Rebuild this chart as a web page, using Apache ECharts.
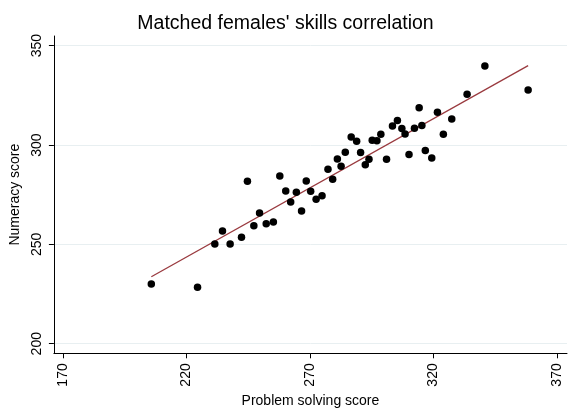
<!DOCTYPE html>
<html>
<head>
<meta charset="utf-8">
<style>
  html, body { margin: 0; padding: 0; background: #ffffff; }
  #chart { width: 571px; height: 415px; }
</style>
<script src="https://cdn.jsdelivr.net/npm/echarts@6/dist/echarts.min.js"></script>
</head>
<body>
<div id="chart"></div>
<script>
// Problem solving score (x) of each matched female group
const problemSolving = [
  205.8, 224.5, 231.5, 234.6, 237.7, 242.3, 244.7, 247.3, 249.6, 252.3,
  255.2, 257.8, 260.2, 262.2, 264.5, 266.6, 268.5, 270.3, 272.5, 274.9,
  277.3, 279.2, 281.1, 282.6, 284.3, 286.7, 288.9, 290.5, 292.4, 293.9,
  295.2, 297.1, 298.7, 301.0, 303.4, 305.4, 307.2, 308.5, 310.1, 312.3,
  314.2, 315.3, 316.7, 319.3, 321.6, 324.0, 327.4, 333.6, 340.8, 358.3
];
// Numeracy score (y)
const numeracy = [
  230.1, 228.4, 250.2, 256.7, 250.2, 253.6, 281.8, 259.4, 265.8, 260.4,
  261.3, 284.4, 276.9, 271.3, 276.2, 266.8, 281.9, 276.7, 272.7, 274.5,
  287.8, 282.8, 293.0, 289.3, 296.4, 304.1, 301.9, 296.2, 290.1, 292.8,
  302.4, 302.2, 305.4, 292.8, 309.6, 312.3, 308.3, 305.6, 295.2, 308.5,
  318.8, 309.8, 297.2, 293.5, 316.5, 305.4, 313.1, 325.6, 339.8, 327.7
];
// Fitted line end points (x, y)
const fitX = [205.8, 358.3];
const fitY = [233.7, 340.0];
// Tick labels
const xTicks = [170, 220, 270, 320, 370];
const yTicks = [200, 250, 300, 350];

const scatterData = problemSolving.map((x, i) => [x, numeracy[i]]);
const fitData = fitX.map((x, i) => [x, fitY[i]]);

const font = "'Liberation Sans', Arial, Helvetica, sans-serif";
const chart = echarts.init(document.getElementById('chart'), null, { renderer: 'canvas' });

chart.setOption({
  backgroundColor: '#ffffff',
  animation: false,
  title: {
    text: "Matched females' skills correlation",
    left: 'center',
    top: 9,
    textStyle: { fontFamily: font, fontSize: 19.5, fontWeight: 'normal', color: '#000' }
  },
  grid: { left: 53, right: 4, top: 36, bottom: 61.7, containLabel: false },
  xAxis: {
    type: 'value',
    min: 166.37,
    max: 374.04,
    name: 'Problem solving score',
    nameLocation: 'middle',
    nameGap: 40,
    nameTextStyle: { fontFamily: font, fontSize: 14, color: '#000' },
    axisLine: { show: true, onZero: false, lineStyle: { color: '#000', width: 1 } },
    axisTick: { show: true, length: 5, inside: false, customValues: xTicks, lineStyle: { color: '#000' } },
    axisLabel: { customValues: xTicks, rotate: 90, margin: 10, fontFamily: font, fontSize: 14, color: '#000' },
    splitLine: { show: false }
  },
  yAxis: {
    type: 'value',
    min: 195.17,
    max: 354.88,
    name: 'Numeracy score',
    nameLocation: 'middle',
    nameRotate: 90,
    nameGap: 27,
    nameTextStyle: { fontFamily: font, fontSize: 14, color: '#000' },
    axisLine: { show: true, onZero: false, lineStyle: { color: '#000', width: 1 } },
    axisTick: { show: true, length: 5, inside: false, customValues: yTicks, lineStyle: { color: '#000' } },
    axisLabel: { customValues: yTicks, rotate: 90, margin: 10, fontFamily: font, fontSize: 14, color: '#000' },
    splitLine: { show: true, lineStyle: { color: '#e8eff1', width: 1 } }
  },
  series: [
    {
      type: 'scatter',
      data: scatterData,
      symbol: 'circle',
      symbolSize: 7.5,
      itemStyle: { color: '#000', opacity: 1 },
      z: 3
    },
    {
      type: 'line',
      data: fitData,
      symbol: 'none',
      lineStyle: { color: '#9a3a3f', width: 1.3 },
      z: 2
    }
  ]
});
</script>
</body>
</html>
